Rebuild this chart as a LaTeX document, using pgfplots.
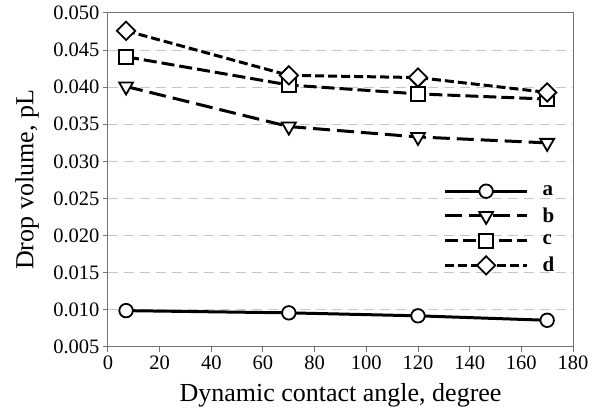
\documentclass[border=0pt]{standalone}
\usepackage{fontspec}
\setmainfont{Liberation Serif}
\usepackage{pgfplots}
\pgfplotsset{compat=1.18}
\begin{document}
\begin{tikzpicture}
\begin{axis}[
  at={(0pt,0pt)}, anchor=south west,
  scale only axis, width=465pt, height=334pt,
  xmin=0, xmax=180, ymin=0.005, ymax=0.050,
  xtick={0,20,40,60,80,100,120,140,160,180},
  ytick={0.005,0.010,0.015,0.020,0.025,0.030,0.035,0.040,0.045,0.050},
  scaled y ticks=false,
  yticklabel style={/pgf/number format/.cd, fixed, fixed zerofill, precision=3, assume math mode=true},
  xticklabel style={/pgf/number format/assume math mode=true},
  tick label style={font=\fontsize{20.5}{24}\selectfont, black},
  xtick pos=left, ytick pos=left,
  tick align=outside,
  major tick length=5pt,
  every tick/.style={black!55, line width=1pt},
  axis line style={black!55, line width=1pt},
  ymajorgrids,
  major grid style={black!22, line width=1pt, dash pattern=on 10pt off 6pt},
  xlabel={Dynamic contact angle, degree},
  ylabel={Drop volume, pL},
  label style={font=\fontsize{26}{30}\selectfont},
  xlabel style={at={(axis description cs:0.5,-0.1437)}, anchor=center},
  ylabel style={at={(axis description cs:-0.1742,0.5)}, anchor=center, rotate=0},
  legend style={draw=none, fill=none, at={(rel axis cs:0.971,0.496)}, anchor=north east,
    font=\bfseries\fontsize{21}{24}\selectfont, row sep=7pt,
    /tikz/every odd column/.append style={column sep=12pt}},
  legend cell align=left,
  legend image code/.code={\draw[mark repeat=2,mark phase=2,#1] plot coordinates {(0pt,0pt) (41pt,0pt) (82pt,0pt)};},
]
\addplot[black, line width=3pt, mark=*, mark size=6.75pt, mark options={solid, fill=white, line width=1.8pt}]
  coordinates {(7,0.0099) (70,0.0096) (120,0.0092) (170,0.0086)};
\addlegendentry{a}
\addplot[black, line width=3pt, dash pattern=on 17pt off 7pt, mark=triangle*, mark size=8pt, mark options={solid, fill=white, line width=1.8pt, rotate=180}]
  coordinates {(7,0.0401) (70,0.0347) (120,0.0333) (170,0.0325)};
\addlegendentry{b}
\addplot[black, line width=3pt, dash pattern=on 13pt off 5pt, mark=square*, mark size=7pt, mark options={solid, fill=white, line width=1.8pt}]
  coordinates {(7,0.0441) (70,0.0403) (120,0.0391) (170,0.0384)};
\addlegendentry{c}
\addplot[black, line width=3pt, dash pattern=on 9pt off 4pt, mark=square*, mark size=6.5pt, mark options={solid, fill=white, line width=1.8pt, rotate=45}]
  coordinates {(7,0.0476) (70,0.0416) (120,0.0413) (170,0.0393)};
\addlegendentry{d}
\end{axis}
\pgfresetboundingbox
\path[use as bounding box] (-108pt,-72pt) rectangle (492pt,347pt);
\end{tikzpicture}
\end{document}
